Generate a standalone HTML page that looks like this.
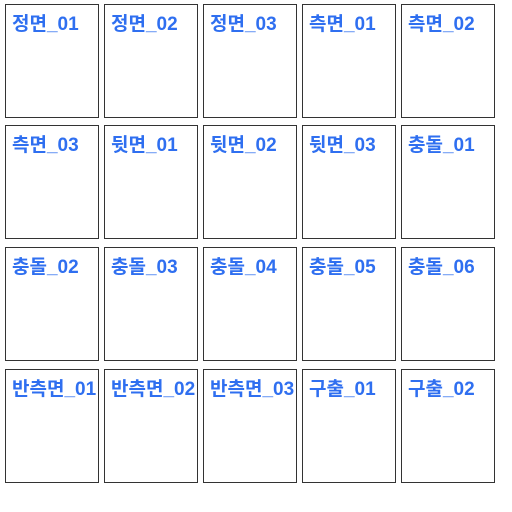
<!DOCTYPE html>
<html><head><meta charset="utf-8"><style>
body{margin:0;width:512px;height:512px;background:#fff;position:relative;overflow:hidden}
.b{position:absolute;width:92px;height:112px;border:1.5px solid #333;box-sizing:content-box}
.t{position:absolute;left:6px;top:4px;font:bold 19px "Liberation Sans","Noto Sans CJK KR",sans-serif;color:#2f6ff0;white-space:nowrap}
</style></head><body>
<div id="g"></div>
<script>
const labels=["정면_01","정면_02","정면_03","측면_01","측면_02","측면_03","뒷면_01","뒷면_02","뒷면_03","충돌_01","충돌_02","충돌_03","충돌_04","충돌_05","충돌_06","반측면_01","반측면_02","반측면_03","구출_01","구출_02"];
const xs=[5,104,203,302,401],ys=[4,125,247,369];
const g=document.getElementById('g');
labels.forEach((l,i)=>{
const d=document.createElement('div');d.className='b';


d.style.left=xs[i%5]+'px';d.style.top=ys[Math.floor(i/5)]+'px';
const t=document.createElement('div');t.className='t';t.textContent=l;


d.appendChild(t);g.appendChild(d);});
</script>
</body></html>
